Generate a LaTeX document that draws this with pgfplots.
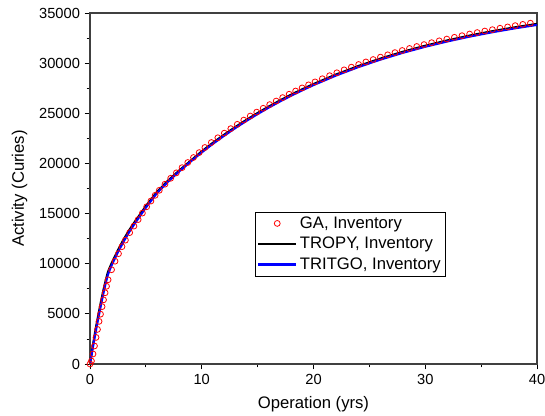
\documentclass[border=0pt]{standalone}
\usepackage{fontspec}
\setmainfont{Liberation Sans}
\usepackage{pgfplots}
\usepackage{pgfplotstable}
\pgfplotsset{compat=1.18}

% GA inventory (markers)
\pgfplotstableread{
t A
0 0
0.13 300
0.27 1000
0.40 1800
0.54 2650
0.67 3450
0.81 4250
0.94 4970
1.08 5720
1.21 6400
1.35 7100
1.48 7750
1.62 8400
1.93 9400
2.24 10250
2.55 11000
2.86 11700
3.17 12350
3.55 13100
3.93 13750
4.31 14400
4.69 15050
5.07 15680
5.45 16250
5.83 16820
6.20 17320
6.71 17930
7.22 18520
7.73 19060
8.24 19580
8.75 20090
9.26 20590
9.77 21080
10.28 21590
10.86 22085
11.44 22560
12.02 23020
12.60 23470
13.18 23900
13.76 24320
14.34 24725
14.92 25115
15.50 25500
16.08 25865
16.66 26220
17.24 26565
17.82 26900
18.40 27220
18.98 27530
19.56 27835
20.14 28130
20.79 28445
21.44 28750
22.09 29040
22.74 29330
23.39 29600
24.04 29865
24.69 30120
25.34 30360
25.99 30600
26.64 30830
27.29 31050
27.94 31260
28.59 31465
29.24 31660
29.89 31850
30.57 32040
31.25 32225
31.93 32400
32.61 32575
33.29 32740
33.97 32900
34.65 33050
35.33 33200
36.01 33340
36.69 33480
37.37 33610
38.05 33740
38.73 33865
39.41 33985
}\gadata

% TROPY inventory
\pgfplotstableread{
t A
0 0
0.2 1450
0.4 2800
0.6 4050
0.8 5200
1.0 6300
1.2 7350
1.4 8300
1.6 9150
1.8 9700
2.0 10200
2.5 11350
3.0 12400
3.5 13330
4.0 14170
4.5 14950
5 15740
6 17170
7 18300
8 19310
9 20260
10 21200
11 22060
12 22860
13 23625
14 24345
15 25026
16 25672
17 26280
18 26855
19 27399
20 27914
22 28858
24 29704
26 30457
28 31133
30 31735
32 32271
34 32753
36 33183
38 33569
40 33911
}\tropydata

% TRITGO inventory
\pgfplotstableread{
t A
0 0
0.2 1300
0.4 2550
0.6 3750
0.8 4900
1.0 6000
1.2 7050
1.4 8050
1.6 8900
1.8 9480
2.0 10000
2.5 11150
3.0 12200
3.5 13150
4.0 14000
4.5 14800
5 15600
6 17050
7 18200
8 19220
9 20180
10 21100
11 21960
12 22760
13 23525
14 24245
15 24926
16 25572
17 26180
18 26755
19 27299
20 27814
22 28758
24 29604
26 30357
28 31033
30 31635
32 32171
34 32653
36 33083
38 33469
40 33811
}\tritgodata

\begin{document}
\begin{tikzpicture}
\begin{axis}[
    width=335.25pt, height=263.25pt,
    scale only axis,
    xmin=0, xmax=40,
    ymin=0, ymax=35000,
    xtick={0,10,...,40},
    ytick={0,5000,...,35000},
    minor x tick num=1,
    minor y tick num=1,
    xtick pos=bottom,
    ytick pos=left,
    tick align=outside,
    major tick length=4pt,
    minor tick length=2.5pt,
    every tick/.style={black, line width=0.6pt},
    axis line style={black!75, line width=0.9pt},
    scaled ticks=false,
    /pgf/number format/1000 sep={},
    /pgf/number format/assume math mode=true,
    tick label style={font=\fontsize{11}{13}\selectfont},
    label style={font=\fontsize{12.5}{15}\selectfont},
    xlabel={Operation (yrs)},
    ylabel={Activity (Curies)},
    xlabel style={yshift=-2pt},
    ylabel style={yshift=2pt},
    legend cell align=left,
    legend style={at={(0.369,0.434)}, anchor=north west,
        draw=black,
        font=\fontsize{12.5}{14}\selectfont,
        inner sep=1.5pt, row sep=1.2pt},
    legend image code/.code={
        \draw[mark repeat=2,mark phase=2]
        plot coordinates {(0cm,0cm) (0.5cm,0cm) (1cm,0cm)};},
]
\addplot[only marks, mark=o, mark size=2.2pt, red, line width=0.6pt]
    table[x=t, y=A] {\gadata};
\addlegendentry{GA, Inventory}
\addplot[black, line width=1.6pt] table[x=t, y=A] {\tropydata};
\addlegendentry{TROPY, Inventory}
\addplot[blue, line width=1.6pt] table[x=t, y=A] {\tritgodata};
\addlegendentry{TRITGO, Inventory}
\end{axis}
\pgfresetboundingbox
\path ([xshift=-67.5pt, yshift=-39pt]current axis.south west)
    rectangle ([xshift=6pt, yshift=9.75pt]current axis.north east);
\end{tikzpicture}
\end{document}
